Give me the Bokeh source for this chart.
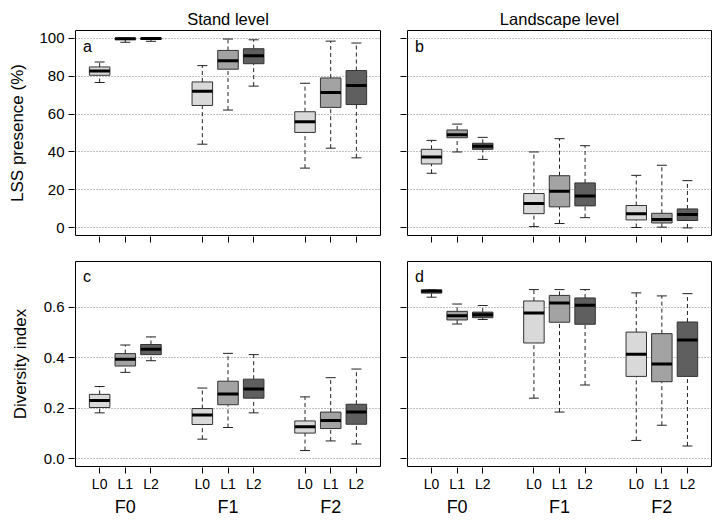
from bokeh.plotting import figure
from bokeh.models import (FactorRange, Label, Whisker, TeeHead, ColumnDataSource,
                          FixedTicker, CustomJSTickFormatter, Range1d, PrintfTickFormatter)
from bokeh.layouts import column, row
from bokeh.embed import file_html
from bokeh.resources import INLINE

FONT = "Liberation Sans"

groups = ["F0", "F1", "F2"]
levels = ["L0", "L1", "L2"]
fills = ["#d9d9d9", "#a3a3a3", "#5f5f5f"]

# Panel a: Stand level, LSS presence (%)
a_lower = [76.6, 97.8, 98.3, 44.1, 62.1, 74.7, 31.5, 42.0, 36.9]
a_q1    = [80.4, 99.2, 99.3, 64.5, 83.6, 86.5, 50.3, 63.5, 65.0]
a_med   = [82.7, 99.7, 99.8, 72.0, 88.1, 90.7, 55.9, 71.3, 75.0]
a_q3    = [84.8, 100.0, 100.0, 76.9, 93.5, 94.4, 61.2, 79.0, 82.9]
a_upper = [87.4, 100.0, 100.0, 85.5, 99.5, 99.1, 76.2, 98.4, 97.4]

# Panel b: Landscape level, LSS presence (%)
b_lower = [28.8, 40.0, 36.1, 0.7, 2.3, 5.4, 0.2, 0.4, 0.0]
b_q1    = [33.7, 47.5, 41.4, 7.5, 11.1, 11.6, 4.2, 2.6, 3.9]
b_med   = [37.4, 49.1, 43.0, 12.8, 19.3, 16.8, 7.5, 4.4, 7.0]
b_q3    = [41.4, 51.6, 44.6, 18.1, 27.5, 23.7, 11.8, 7.7, 10.0]
b_upper = [46.1, 54.7, 47.7, 40.0, 47.0, 43.3, 27.7, 33.0, 24.9]

# Panel c: Stand level, Diversity index
c_lower = [0.182, 0.342, 0.388, 0.078, 0.124, 0.182, 0.033, 0.071, 0.059]
c_q1    = [0.203, 0.367, 0.412, 0.136, 0.214, 0.240, 0.102, 0.120, 0.137]
c_med   = [0.231, 0.394, 0.433, 0.173, 0.256, 0.276, 0.127, 0.152, 0.185]
c_q3    = [0.255, 0.416, 0.452, 0.199, 0.307, 0.315, 0.150, 0.185, 0.216]
c_upper = [0.286, 0.450, 0.482, 0.280, 0.417, 0.412, 0.245, 0.321, 0.355]

# Panel d: Landscape level, Diversity index
d_lower = [0.639, 0.533, 0.551, 0.240, 0.185, 0.292, 0.073, 0.133, 0.051]
d_q1    = [0.655, 0.549, 0.558, 0.458, 0.540, 0.532, 0.326, 0.305, 0.326]
d_med   = [0.662, 0.566, 0.570, 0.577, 0.616, 0.607, 0.414, 0.375, 0.470]
d_q3    = [0.668, 0.583, 0.580, 0.624, 0.646, 0.636, 0.501, 0.495, 0.541]
d_upper = [0.669, 0.612, 0.606, 0.669, 0.669, 0.669, 0.656, 0.644, 0.653]

lss_ticks = [0, 20, 40, 60, 80, 100]
div_ticks = [0.0, 0.2, 0.4, 0.6]

factors = [(g, l) for g in groups for l in levels]
x_range = FactorRange(factors=factors, group_padding=1.0, factor_padding=0.0,
                      range_padding=0.44, range_padding_units="absolute")


def panel(lower, q1, med, q3, upper, yr, yticks, letter, letter_y, bottom_row, left_col,
          ylabel=None, title=None, fmt=None, label_standoff=9):
    src = ColumnDataSource(dict(
        x=factors, lower=lower, q1=q1, med=med, q3=q3, upper=upper,
        fill=[fills[levels.index(f[1])] for f in factors]))
    p = figure(x_range=x_range, y_range=Range1d(*yr),
               frame_width=305 if left_col else 304, frame_height=205,
               min_border_left=75 if left_col else 14,
               min_border_right=13 if left_col else 4,
               min_border_top=30 if not bottom_row else 13,
               min_border_bottom=49 if bottom_row else 13,
               output_backend="svg", toolbar_location=None,
               background_fill_color="white", border_fill_color="white")
    p.outline_line_color = "black"
    p.outline_line_width = 1
    p.xgrid.visible = False
    p.ygrid.ticker = FixedTicker(ticks=yticks)
    p.ygrid.grid_line_color = "#808080"
    p.ygrid.grid_line_dash = "1 2"
    p.ygrid.grid_line_width = 1

    if title:
        p.title.text = title
        p.title.align = "center"
        p.title.text_font = FONT
        p.title.text_font_size = "16.5px"
        p.title.text_font_style = "normal"
        p.title.text_color = "black"
        p.title.standoff = 6

    # whiskers
    p.add_layout(Whisker(source=src, base="x", lower="q3", upper="upper",
                         line_dash="4 3", line_color="#222222", line_width=1,
                         upper_head=TeeHead(size=10, line_color="#222222", line_width=1),
                         lower_head=None))
    p.add_layout(Whisker(source=src, base="x", lower="lower", upper="q1",
                         line_dash="4 3", line_color="#222222", line_width=1,
                         lower_head=TeeHead(size=10, line_color="#222222", line_width=1),
                         upper_head=None))
    # boxes
    p.vbar(x="x", top="q3", bottom="q1", width=0.8, source=src,
           fill_color="fill", line_color="#333333", line_width=1)
    # medians
    p.rect(x="x", y="med", width=0.8, height=3, height_units="screen", source=src,
           fill_color="black", line_color=None)

    # axes
    for ax in (p.xaxis[0], p.yaxis[0]):
        ax.axis_line_color = None
        ax.major_tick_in = -1
        ax.major_tick_out = 7
        ax.minor_tick_line_color = None
        ax.major_tick_line_color = "black"
        ax.major_label_text_font = FONT
        ax.major_label_text_color = "black"
    yax = p.yaxis[0]
    yax.ticker = FixedTicker(ticks=yticks)
    if left_col:
        yax.major_label_text_font_size = "15px"
        yax.major_label_standoff = 4
        if fmt is not None:
            yax.formatter = fmt
        yax.axis_label = ylabel
        yax.axis_label_text_font = FONT
        yax.axis_label_text_font_size = "17px"
        yax.axis_label_text_font_style = "normal"
        yax.axis_label_text_color = "black"
        yax.axis_label_standoff = label_standoff
    else:
        yax.formatter = CustomJSTickFormatter(code="return ''")
        yax.major_label_standoff = 0
        yax.major_label_text_font_size = "1px"
    xax = p.xaxis[0]
    xax.separator_line_color = None
    xax.group_text_font = FONT
    xax.group_text_font_style = "normal"
    xax.group_text_color = "black"
    if bottom_row:
        xax.major_label_text_font_size = "14px"
        xax.major_label_standoff = 2
        xax.group_text_font_size = "18px"
    else:
        xax.major_label_text_font_size = "1px"
        xax.major_label_text_alpha = 0
        xax.group_text_font_size = "1px"
        xax.group_text_alpha = 0
        xax.major_label_standoff = 0

    p.add_layout(Label(x=-0.15, y=letter_y, text=letter, text_font=FONT,
                       text_font_size="16px", text_color="black",
                       text_baseline="middle", text_align="left"))
    return p


pa = panel(a_lower, a_q1, a_med, a_q3, a_upper, (-4, 104), lss_ticks, "a", 95.8,
           False, True, ylabel="LSS presence (%)", title="Stand level")
pb = panel(b_lower, b_q1, b_med, b_q3, b_upper, (-4, 104), lss_ticks, "b", 95.8,
           False, False, title="Landscape level")
pc = panel(c_lower, c_q1, c_med, c_q3, c_upper, (-0.03, 0.78), div_ticks, "c", 0.72,
           True, True, ylabel="Diversity index", fmt=PrintfTickFormatter(format="%.1f"),
           label_standoff=11)
pd_ = panel(d_lower, d_q1, d_med, d_q3, d_upper, (-0.03, 0.78), div_ticks, "d", 0.72,
            True, False)

layout = column(row(pa, pb), row(pc, pd_))
open("out.html", "w").write(file_html(layout, INLINE))
